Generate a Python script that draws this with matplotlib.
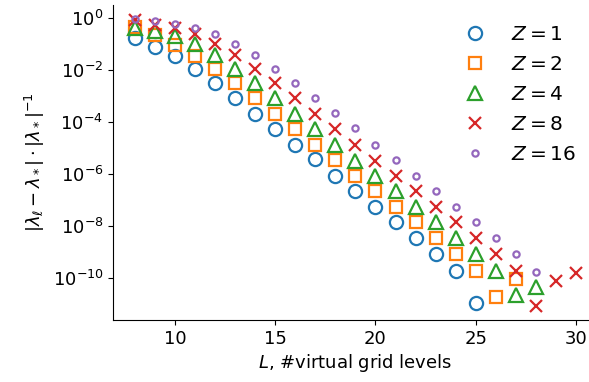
import matplotlib
matplotlib.use("Agg")
import matplotlib.pyplot as plt
import numpy as np

# log10 of relative eigenvalue error
L_z1 = list(range(8, 26))
err_z1 = [-0.75, -1.10, -1.46, -1.94, -2.48, -3.08, -3.68, -4.26, -4.87,
          -5.44, -6.07, -6.67, -7.27, -7.87, -8.48, -9.10, -9.74, -10.99]

L_z2 = list(range(8, 28))
err_z2 = [-0.35, -0.66, -1.02, -1.45, -1.94, -2.50, -3.08, -3.68, -4.26, -4.87,
          -5.46, -6.07, -6.67, -7.27, -7.87, -8.48, -9.10, -9.74, -10.77, -10.06]

L_z4 = list(range(8, 29))
err_z4 = [-0.36, -0.48, -0.69, -1.00, -1.43, -1.96, -2.50, -3.08, -3.68, -4.26,
          -4.87, -5.49, -6.07, -6.67, -7.27, -7.87, -8.48, -9.10, -9.74, -10.67, -10.36]

L_z8 = list(range(8, 31))
err_z8 = [-0.05, -0.25, -0.38, -0.61, -0.98, -1.43, -1.94, -2.50, -3.08, -3.68,
          -4.26, -4.87, -5.49, -6.07, -6.67, -7.27, -7.87, -8.48, -9.10, -9.74,
          -11.09, -10.15, -9.81]

L_z16 = list(range(8, 29))
err_z16 = [-0.04, -0.11, -0.23, -0.38, -0.62, -0.98, -1.43, -1.94, -2.50, -3.08,
           -3.66, -4.24, -4.87, -5.46, -6.07, -6.67, -7.27, -7.87, -8.48, -9.10, -9.77]

series = [
    (1, L_z1, err_z1, 'o', 9.5, '#1f77b4'),
    (2, L_z2, err_z2, 's', 9, '#ff7f0e'),
    (4, L_z4, err_z4, '^', 9.5, '#2ca02c'),
    (8, L_z8, err_z8, 'x', 9, '#d62728'),
    (16, L_z16, err_z16, 'o', 4.5, '#9467bd'),
]

plt.rcParams['font.size'] = 13
fig = plt.figure(figsize=(5.89, 3.82), dpi=100)
ax = fig.add_axes([0.192, 0.162, 0.823, 0.825])

for Z, Ls, errs, marker, ms, color in series:
    ax.plot(Ls, 10.0 ** np.array(errs), linestyle='none', marker=marker,
            markersize=ms, markerfacecolor='none', markeredgecolor=color,
            markeredgewidth=1.6, label=f'$Z = {Z}$')

ax.set_yscale('log')
ax.set_xticks([10, 15, 20, 25, 30])
ax.set_xlabel('$L$, #virtual grid levels', labelpad=3)
ax.set_ylabel(r'$|\lambda_\ell - \lambda_*| \cdot |\lambda_*|^{-1}$')
ax.spines['top'].set_visible(False)
ax.spines['right'].set_visible(False)
ax.legend(frameon=False, loc='upper left', bbox_to_anchor=(0.668, 0.995),
          fontsize=14.5, handletextpad=0.8, labelspacing=0.55)

fig.savefig('out.png', dpi=100)
